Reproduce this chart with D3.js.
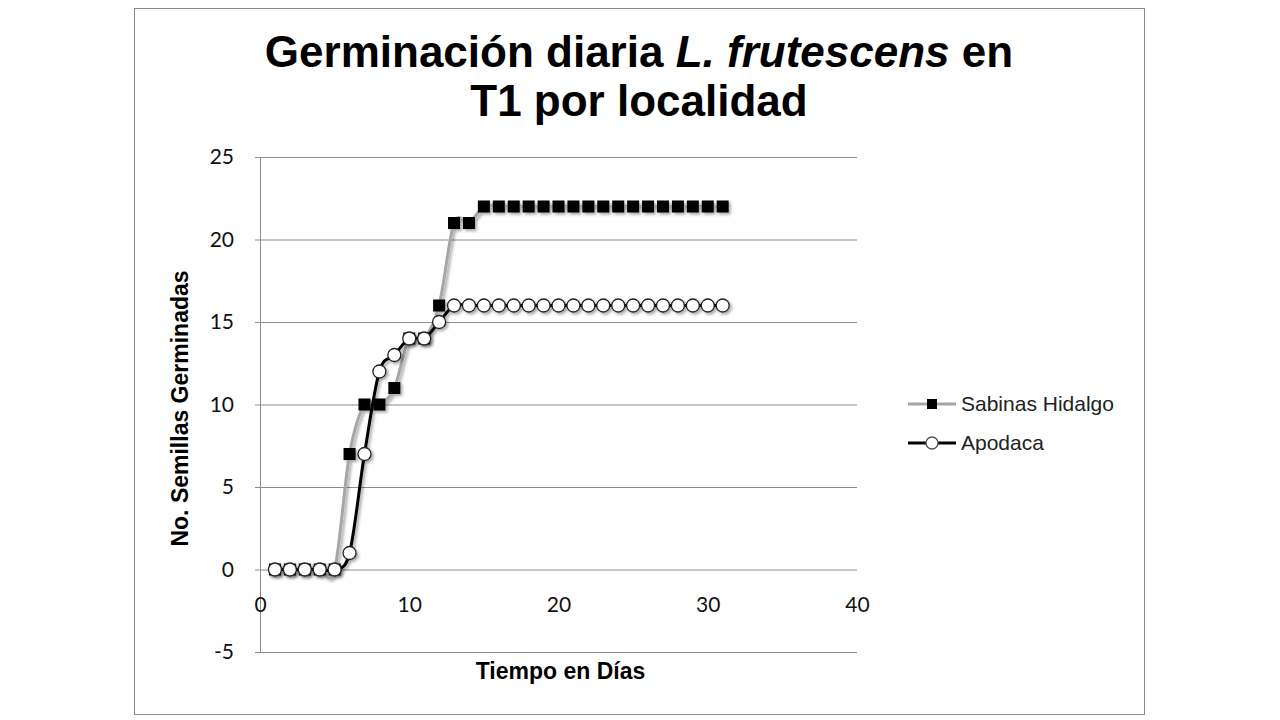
<!DOCTYPE html>
<html lang="es">
<head>
    <meta charset="UTF-8">
    <title>Germinación diaria L. frutescens</title>
    <script src="https://d3js.org/d3.v7.min.js"></script>
    <style>
        body { margin: 0; background: #fff; }
        svg { display: block; }
        .tick-label { font-family: Lato, "Open Sans", sans-serif; font-size: 21px; fill: #111; }
        .axis-title { font-family: "Liberation Sans", Arial, sans-serif; font-size: 23px; font-weight: bold; fill: #000; }
        .legend-label { font-family: "Liberation Sans", Arial, sans-serif; font-size: 21px; fill: #222; }
    </style>
</head>
<body>
<svg width="1280" height="720"></svg>
<script>
    // Data
    const days = [1, 2, 3, 4, 5, 6, 7, 8, 9, 10, 11, 12, 13, 14, 15, 16, 17, 18, 19, 20,
                  21, 22, 23, 24, 25, 26, 27, 28, 29, 30, 31];
    const sabinas = [0, 0, 0, 0, 0, 7, 10, 10, 11, 14, 14, 16, 21, 21, 22, 22, 22, 22, 22, 22,
                     22, 22, 22, 22, 22, 22, 22, 22, 22, 22, 22];
    const apodaca = [0, 0, 0, 0, 0, 1, 7, 12, 13, 14, 14, 15, 16, 16, 16, 16, 16, 16, 16, 16,
                     16, 16, 16, 16, 16, 16, 16, 16, 16, 16, 16];
    const xTicks = [0, 10, 20, 30, 40];
    const yTicks = [-5, 0, 5, 10, 15, 20, 25];
    const seriesNames = ["Sabinas Hidalgo", "Apodaca"];

    const svg = d3.select("svg");

    // plot area
    const plot = { left: 260, right: 857, top: 157, bottom: 652 };
    const x = d3.scaleLinear().domain([0, 40]).range([plot.left, plot.right]);
    const y = d3.scaleLinear().domain([-5, 25]).range([plot.bottom, plot.top]);

    // drop shadow like the spreadsheet style
    const defs = svg.append("defs");
    defs.append("filter")
        .attr("id", "shadow")
        .attr("x", "-20%").attr("y", "-20%")
        .attr("width", "140%").attr("height", "140%")
        .append("feDropShadow")
        .attr("dx", 2).attr("dy", 2)
        .attr("stdDeviation", 1.5)
        .attr("flood-color", "#000")
        .attr("flood-opacity", 0.35);

    // outer chart border
    svg.append("rect")
        .attr("x", 134.5).attr("y", 8.5)
        .attr("width", 1010).attr("height", 706)
        .attr("fill", "#fff")
        .attr("stroke", "#8c8c8c")
        .attr("stroke-width", 1);

    // title
    const title = svg.append("text")
        .attr("text-anchor", "middle")
        .style("font-family", "'Liberation Sans', Arial, sans-serif")
        .style("font-size", "44px")
        .style("font-weight", "bold");
    const line1 = title.append("tspan").attr("x", 639).attr("y", 67);
    line1.append("tspan").text("Germinación diaria ");
    line1.append("tspan").style("font-style", "italic").text("L. frutescens");
    line1.append("tspan").text(" en");
    title.append("tspan").attr("x", 639).attr("y", 116).text("T1 por localidad");

    // horizontal gridlines (with y-axis as left edge)
    const yAxis = d3.axisLeft(y)
        .tickValues(yTicks)
        .tickSize(-(plot.right - plot.left))
        .tickPadding(26)
        .tickFormat(d => String(d));
    const gy = svg.append("g")
        .attr("transform", `translate(${plot.left},0)`)
        .call(yAxis);
    gy.select(".domain").attr("stroke", "#8c8c8c");
    gy.selectAll(".tick line").attr("stroke", "#8c8c8c").attr("x1", -5);
    gy.selectAll(".tick text")
        .attr("class", "tick-label")
        .attr("x", -26);

    // x-axis labels sit below the zero line
    const xAxis = d3.axisBottom(x)
        .tickValues(xTicks)
        .tickSize(0)
        .tickPadding(28)
        .tickFormat(d => String(d));
    const gx = svg.append("g")
        .attr("transform", `translate(0,${y(0)})`)
        .call(xAxis);
    gx.select(".domain").remove();
    gx.selectAll(".tick text").attr("class", "tick-label");

    // axis titles
    svg.append("text")
        .attr("class", "axis-title")
        .attr("text-anchor", "middle")
        .attr("x", (plot.left + plot.right) / 2 + 2)
        .attr("y", 679)
        .text("Tiempo en Días");

    svg.append("text")
        .attr("class", "axis-title")
        .attr("text-anchor", "middle")
        .attr("transform", `translate(188,${(plot.top + plot.bottom) / 2 + 4}) rotate(-90)`)
        .text("No. Semillas Germinadas");

    // series
    const line = d3.line()
        .x(d => x(d[0]))
        .y(d => y(d[1]))
        .curve(d3.curveCardinal.tension(0));

    const sabData = days.map((d, i) => [d, sabinas[i]]);
    const apoData = days.map((d, i) => [d, apodaca[i]]);

    const gS = svg.append("g").attr("filter", "url(#shadow)");
    gS.append("path")
        .datum(sabData)
        .attr("d", line)
        .attr("fill", "none")
        .attr("stroke", "#a6a6a6")
        .attr("stroke-width", 3);
    gS.selectAll("rect")
        .data(sabData)
        .join("rect")
        .attr("x", d => x(d[0]) - 6)
        .attr("y", d => y(d[1]) - 6)
        .attr("width", 12)
        .attr("height", 12)
        .attr("fill", "#000");

    const gA = svg.append("g").attr("filter", "url(#shadow)");
    gA.append("path")
        .datum(apoData)
        .attr("d", line)
        .attr("fill", "none")
        .attr("stroke", "#000")
        .attr("stroke-width", 3);
    gA.selectAll("circle")
        .data(apoData)
        .join("circle")
        .attr("cx", d => x(d[0]))
        .attr("cy", d => y(d[1]))
        .attr("r", 6.5)
        .attr("fill", "#fff")
        .attr("stroke", "#222")
        .attr("stroke-width", 1.3);

    // legend
    const legend = svg.append("g").attr("transform", "translate(908,404)");
    const items = legend.selectAll("g")
        .data(seriesNames)
        .join("g")
        .attr("transform", (d, i) => `translate(0,${i * 39})`);
    items.append("line")
        .attr("x1", 0).attr("x2", 48)
        .attr("y1", 0).attr("y2", 0)
        .attr("stroke", (d, i) => i === 0 ? "#a6a6a6" : "#000")
        .attr("stroke-width", 3);
    items.filter((d, i) => i === 0).append("rect")
        .attr("x", 19).attr("y", -5)
        .attr("width", 10).attr("height", 10)
        .attr("fill", "#000");
    items.filter((d, i) => i === 1).append("circle")
        .attr("cx", 24).attr("cy", 0).attr("r", 6)
        .attr("fill", "#fff")
        .attr("stroke", "#555")
        .attr("stroke-width", 1.3);
    items.append("text")
        .attr("class", "legend-label")
        .attr("x", 53)
        .attr("y", 7)
        .text(d => d);
</script>
</body>
</html>
